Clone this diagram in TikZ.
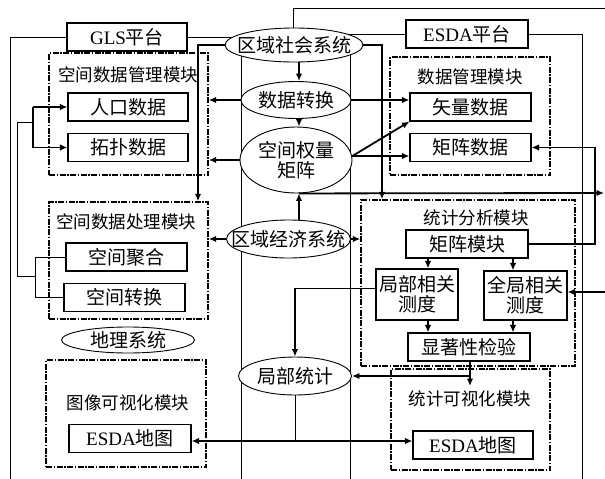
\documentclass[tikz,border=0pt]{standalone}
\usepackage{fontspec}
\setmainfont{Liberation Serif}
\newfontfamily\cjk{Noto Sans CJK SC}
\usetikzlibrary{shapes.geometric,arrows.meta,backgrounds}
\newcommand\bigf{\fontsize{19pt}{20pt}\selectfont}
\newcommand\titf{\fontsize{17.5pt}{19pt}\selectfont}
\begin{document}
\begin{tikzpicture}[x=1pt,y=-1pt,
  >={Latex[length=7.5pt,width=6.5pt]},
  bx/.style={draw, line width=1.1pt, minimum height=28pt, inner sep=1pt, font=\cjk\bigf},
  dd/.style={draw, line width=1.4pt, dash pattern=on 6pt off 1.5pt on 1.5pt off 1.5pt, inner sep=0pt},
  el/.style={draw, ellipse, fill=white, line width=0.9pt, inner sep=0pt},
  lbl/.style={inner sep=0pt, font=\cjk\bigf, align=center},
  tit/.style={inner sep=0pt, font=\cjk\titf},
  thn/.style={line width=0.9pt},
  med/.style={line width=1.2pt},
  thk/.style={line width=1.8pt},
  vthk/.style={line width=2.5pt}]
\useasboundingbox (0,0) rectangle (605,479);

% dash-dot modules
\node[dd, minimum width=159pt, minimum height=122pt] (mgmt) at (128.5,114) {};
\node[dd, minimum width=159pt, minimum height=117pt] (proc) at (128.5,260.5) {};
\node[dd, minimum width=160pt, minimum height=107pt] (imgvis) at (126,413.5) {};
\node[dd, minimum width=160pt, minimum height=118pt] (dm) at (470,116) {};
\node[dd, minimum width=214pt, minimum height=166pt] (stat) at (468,283) {};
\node[dd, minimum width=159pt, minimum height=101pt] (statvis) at (470.5,419.5) {};

\node[tit] (t1) at (128,75) {空间数据管理模块};
\node[tit] (t2) at (126,222) {空间数据处理模块};
\node[tit] (t3) at (128,403) {图像可视化模块};
\node[tit] (t4) at (470,77) {数据管理模块};
\node[tit] (t5) at (476,218) {统计分析模块};
\node[tit] (t6) at (470,399) {统计可视化模块};

% boxes
\node[bx, minimum width=120pt] (gls) at (127,37) {{\rmfamily GLS}平台};
\node[bx, minimum width=122pt] (esda) at (467,34) {{\rmfamily ESDA}平台};
\node[bx, minimum width=120pt] (pop) at (128,107) {人口数据};
\node[bx, minimum width=120pt] (topo) at (128,147.5) {拓扑数据};
\node[bx, minimum width=121pt] (agg) at (126.5,257) {空间聚合};
\node[bx, minimum width=121pt] (conv) at (124.5,297.5) {空间转换};
\node[bx, minimum width=122pt] (mapL) at (130,438.5) {{\rmfamily ESDA}地图};
\node[bx, minimum width=121pt] (vec) at (470.5,107) {矢量数据};
\node[bx, minimum width=121pt] (matd) at (470.5,147.5) {矩阵数据};
\node[bx, minimum width=122pt] (mm) at (467,244) {矩阵模块};
\node[bx, minimum width=82pt, minimum height=51pt, align=center] (lc) at (417,294.5) {局部相关\\测度};
\node[bx, minimum width=83pt, minimum height=49pt, align=center] (gc) at (525.5,295.5) {全局相关\\测度};
\node[bx, minimum width=122pt] (sig) at (469,347) {显著性检验};
\node[bx, minimum width=120pt] (mapR) at (473,445) {{\rmfamily ESDA}地图};

% ellipses
\node[el, minimum width=138pt, minimum height=34pt] (soc) at (294,45) {};
\node[lbl] (socl) at (soc) {区域社会系统};
\node[el, minimum width=110pt, minimum height=37pt] (dt) at (296,100) {};
\node[lbl] (dtl) at (dt) {数据转换};
\node[el, minimum width=112pt, minimum height=66pt] (mat) at (296,160) {};
\node[lbl] (matl) at (mat) {空间权量\\矩阵};
\node[el, minimum width=124pt, minimum height=38pt] (econ) at (288.5,239) {};
\node[lbl] (econl) at (econ) {区域经济系统};
\node[el, minimum width=113pt, minimum height=38pt] (ls) at (295,376) {};
\node[lbl] (lsl) at (ls) {局部统计};
\node[el, minimum width=133pt, minimum height=26pt] (geo) at (128,340) {};
\node[lbl] (geol) at (geo) {地理系统};

% coordinates
\coordinate (glsB) at (10,479);
\coordinate (esdaB) at (582,479);
\coordinate (topA) at (293,30);
\coordinate (topB) at (605,8);
\coordinate (cyl1) at (241,45);
\coordinate (cyl1b) at (241,479);
\coordinate (cyl2) at (350,45);
\coordinate (cyl2b) at (350,479);
\coordinate (lx) at (198,0);
\coordinate (rx) at (382,0);
\coordinate (cx) at (299,0);
\coordinate (eR) at (604,193);
\coordinate (fx) at (595,0);
\coordinate (c1) at (428,0);
\coordinate (c2) at (513,0);
\coordinate (sv) at (470,386);
\coordinate (mapy) at (0,441);
\coordinate (eR2) at (605,292);
\coordinate (b1) at (33,0);
\coordinate (b2) at (35,0);
\coordinate (j1) at (17,122);
\coordinate (j2) at (17,276);

\begin{pgfonlayer}{background}
  \fill[white] (0,0) rectangle (605,479);
  \draw[thn] (gls.west) -| (glsB);
  \draw[thn] (esda.east) -| (esdaB);
  \draw[thn] (topA) |- (topB);
  \draw[thn] (gls.east) -- (gls.east -| soc.center);
  \draw[thn] (esda.west) -- (esda.west -| soc.center);
  \draw[thn] (cyl1) -- (cyl1b);
  \draw[thn] (cyl2) -- (cyl2b);
\end{pgfonlayer}

% connectors
\draw[thk,->] (soc.west) -| (lx |- proc.north);
\draw[thk,->] (soc.east) -| (rx |- stat.north);
\draw[thk,->] (soc.south -| cx) -- (dt.north -| cx);
\draw[thk,->] (dt.south -| cx) -- (mat.north -| cx);
\draw[thk,->] (econ.north -| cx) -- (mat.south -| cx);
\draw[thk,->] (mat.south -| cx) -- (eR);
\draw[thk,->] (dt.west) -- (dt.west -| mgmt.east);
\draw[thk,->] (dt.east) -- (dt.east -| vec.west);
\draw[thk,->] (mat.west) -- (mat.west -| mgmt.east);
\draw[thk,->] ([yshift=4pt]mat.east) -- (vec.south west);
\draw[thk,->] ([yshift=4pt]mat.east) -- ([yshift=4pt]mat.east -| matd.west);
\draw[thk,->] (econ.west) -- (econ.west -| proc.east);
\draw[thk,->] (econ.east) -- (econ.east -| stat.west);
\draw[med,->] (mm.east) -| (fx |- matd.east) -- (matd.east);
\draw[thk,->] (mm.south -| c1) -- (lc.north -| c1);
\draw[thk,->] (mm.south -| c2) -- (gc.north -| c2);
\draw[thk,->] (lc.south -| c1) -- (sig.north -| c1);
\draw[thk,->] (gc.south -| c2) -- (sig.north -| c2);
\draw[thk,->] ([yshift=6pt]lc.west) -| (ls.north);
\draw[thk,->] (sig.south -| sv) -- (sv);
\draw[thk,->] (sv |- ls.east) -- (ls.east);
\draw[thn] (ls.south) -- (ls.south |- mapy);
\draw[vthk,<->] (mapL.east |- mapy) -- (mapR.west |- mapy);
\draw[thk,->] (eR2) -- (eR2 -| gc.east);

% brackets
\draw[thk] (b1 |- pop.west) -- (b1 |- topo.west);
\draw[thk,->] (b1 |- pop.west) -- (pop.west);
\draw[thk,->] (b1 |- topo.west) -- (topo.west);
\draw[thn] (b1 |- j1) -- (j1) -- (j2) -- (b2 |- j2);
\draw[thn] (agg.west) -- (b2 |- agg.west) -- (b2 |- conv.west) -- (conv.west);
\end{tikzpicture}
\end{document}
